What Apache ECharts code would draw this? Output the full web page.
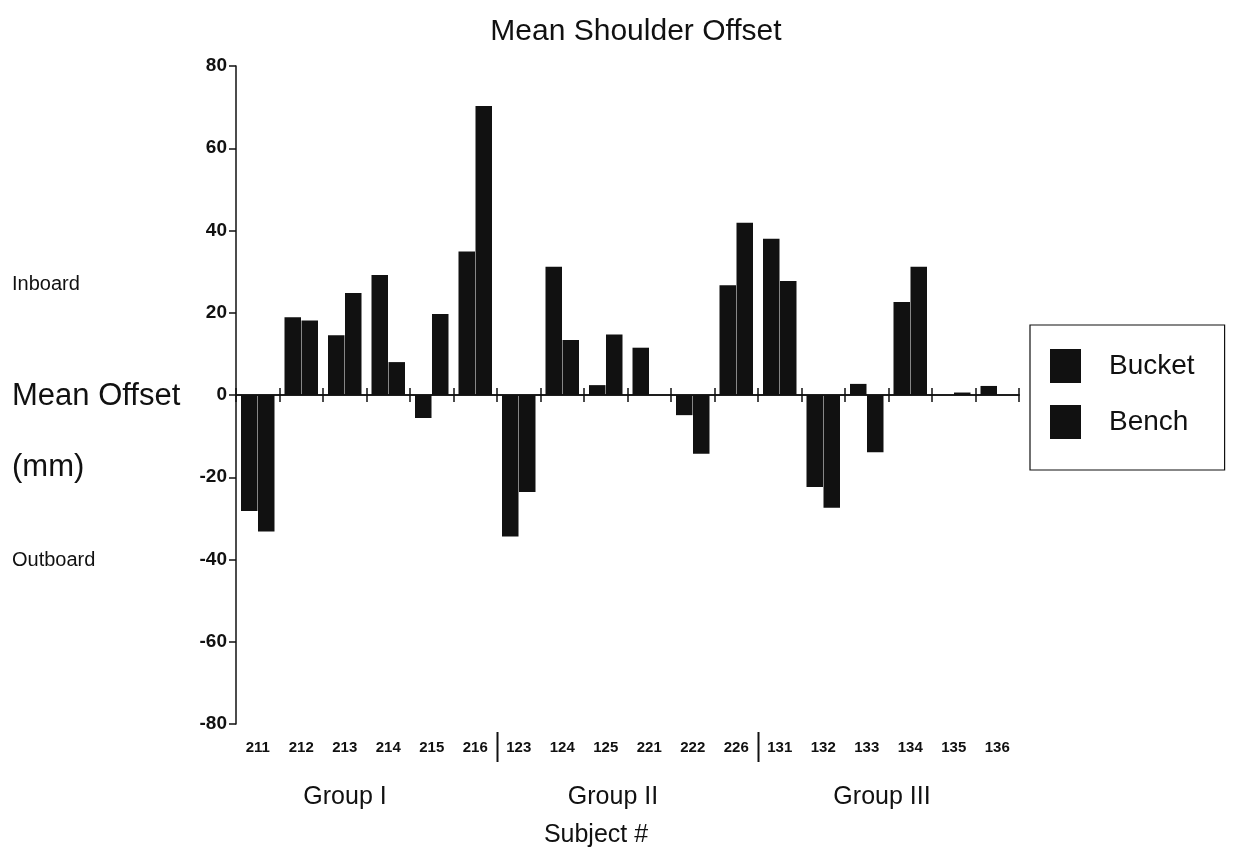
<!DOCTYPE html>
<html>
<head>
<meta charset="utf-8">
<script src="https://cdn.jsdelivr.net/npm/echarts@6/dist/echarts.min.js"></script>
<style>
html,body{margin:0;padding:0;background:#fff;}
#chart{width:1233px;height:858px;}
</style>
</head>
<body>
<div id="chart"></div>
<script>
const subjects = ['211','212','213','214','215','216','123','124','125','221','222','226','131','132','133','134','135','136'];
const bucket = [-28.2, 18.9, 14.5, 29.2, -5.6, 34.9, -34.4, 31.2, 2.4, 11.5, -4.9, 26.7, 38.0, -22.4, 2.7, 22.6, 0, 2.2];
const bench  = [-33.2, 18.1, 24.8, 8.0, 19.7, 70.3, -23.6, 13.4, 14.7, 0, -14.3, 41.9, 27.7, -27.4, -13.9, 31.2, 0.6, 0];
const groups = ['Group I', 'Group II', 'Group III'];
const groupBreaks = [6, 12];
const seriesNames = ['Bucket', 'Bench'];

const FONT = '"Liberation Sans", Arial, Helvetica, sans-serif';
const INK = '#111';

const chart = echarts.init(document.getElementById('chart'), null, {renderer: 'canvas'});

const baseX = {
  type: 'category',
  data: subjects,
  boundaryGap: true,
  splitLine: {show: false}
};

const option = {
  backgroundColor: '#fff',
  animation: false,
  textStyle: {fontFamily: FONT, color: INK},
  title: {
    text: 'Mean Shoulder Offset',
    left: 631, textAlign: 'center', top: 12,
    textStyle: {fontFamily: FONT, fontSize: 30, fontWeight: 'normal', color: INK}
  },
  legend: {
    data: seriesNames,
    orient: 'vertical',
    left: 1030, top: 325,
    padding: [24, 30, 31, 20],
    itemWidth: 31, itemHeight: 34, itemGap: 22,
    icon: 'rect',
    backgroundColor: '#fff',
    borderColor: INK, borderWidth: 1.2, borderRadius: 0,
    textStyle: {fontFamily: FONT, fontSize: 28, color: INK, padding: [0, 0, 0, 23]}
  },
  grid: {left: 236, right: 214, top: 66, bottom: 134, containLabel: false},
  xAxis: [
    Object.assign({}, baseX, {
      position: 'bottom',
      axisLine: {show: true, onZero: true, onZeroAxisIndex: 0, lineStyle: {color: INK, width: 1.5}},
      axisTick: {show: true, inside: true, length: 7, lineStyle: {color: INK, width: 1.5}},
      axisLabel: {show: false}
    }),
    Object.assign({}, baseX, {
      position: 'bottom',
      axisLine: {show: false, onZero: false},
      axisTick: {show: false},
      axisLabel: {show: true, margin: 16, fontFamily: FONT, fontSize: 15, fontWeight: 'bold', color: INK, interval: 0}
    }),
    Object.assign({}, baseX, {
      position: 'bottom',
      axisLine: {show: true, onZero: true, onZeroAxisIndex: 0, lineStyle: {color: INK, width: 1.5}},
      axisTick: {show: true, inside: false, length: 7, lineStyle: {color: INK, width: 1.5}},
      axisLabel: {show: false}
    })
  ],
  yAxis: {
    type: 'value',
    min: -80, max: 80, interval: 20,
    axisLine: {show: true, lineStyle: {color: INK, width: 1.5}},
    axisTick: {show: true, inside: false, length: 7, lineStyle: {color: INK, width: 1.5}},
    axisLabel: {margin: 9, fontFamily: FONT, fontSize: 19, fontWeight: 'bold', color: INK},
    splitLine: {show: false}
  },
  series: [
    {
      name: seriesNames[0], type: 'bar', xAxisIndex: 0, data: bucket,
      barGap: '3%', barCategoryGap: '23%',
      itemStyle: {color: INK}
    },
    {
      name: seriesNames[1], type: 'bar', xAxisIndex: 0, data: bench,
      barGap: '3%', barCategoryGap: '23%',
      itemStyle: {color: INK}
    }
  ]
};

chart.setOption(option);

// Decorations computed through the category axis
function boundaryX(i) {
  const a = chart.convertToPixel({xAxisIndex: 0}, subjects[i - 1]);
  const b = chart.convertToPixel({xAxisIndex: 0}, subjects[i]);
  return (a + b) / 2;
}
const bottomY = chart.convertToPixel({yAxisIndex: 0}, -80);
const graphics = [];
groupBreaks.forEach(function (i) {
  const x = Math.round(boundaryX(i)) + 0.5;
  graphics.push({
    type: 'line', silent: true,
    shape: {x1: x, y1: bottomY + 8, x2: x, y2: bottomY + 38},
    style: {stroke: INK, lineWidth: 2}
  });
});
const groupCenters = [345, 613, 882];
groups.forEach(function (g, k) {
  graphics.push({
    type: 'text', silent: true,
    x: groupCenters[k], y: bottomY + 73,
    style: {text: g, fill: INK, font: '25px ' + FONT, textAlign: 'center', textVerticalAlign: 'middle'}
  });
});
graphics.push({
  type: 'text', silent: true, x: 596, y: bottomY + 111,
  style: {text: 'Subject #', fill: INK, font: '25px ' + FONT, textAlign: 'center', textVerticalAlign: 'middle'}
});
const sideTexts = [
  {t: 'Inboard', y: 284, size: 20},
  {t: 'Mean Offset', y: 396, size: 31},
  {t: '(mm)', y: 467, size: 31},
  {t: 'Outboard', y: 560, size: 20}
];
sideTexts.forEach(function (s) {
  graphics.push({
    type: 'text', silent: true, x: 12, y: s.y,
    style: {text: s.t, fill: INK, font: s.size + 'px ' + FONT, textAlign: 'left', textVerticalAlign: 'middle'}
  });
});
chart.setOption({graphic: graphics});
</script>
</body>
</html>
